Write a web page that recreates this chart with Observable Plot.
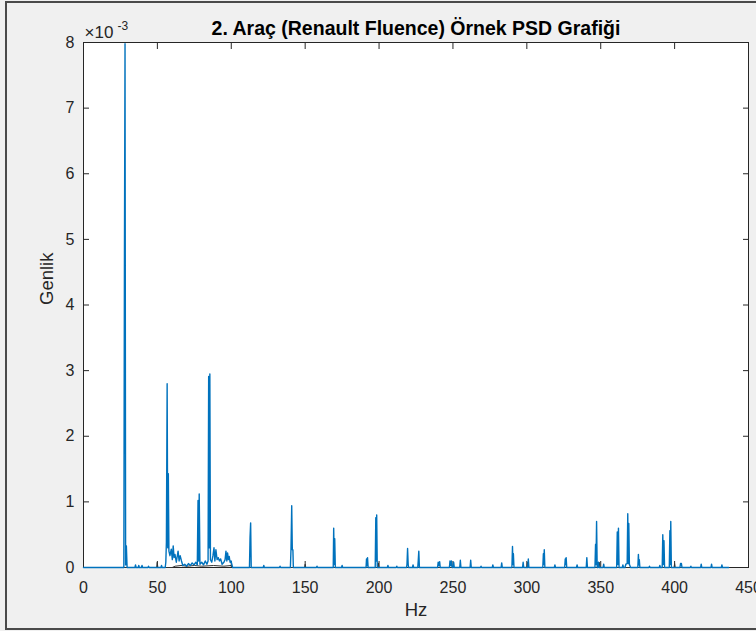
<!DOCTYPE html>
<html><head><meta charset="utf-8">
<script src="https://cdn.jsdelivr.net/npm/d3@7"></script>
<script src="https://cdn.jsdelivr.net/npm/@observablehq/plot@0.6"></script>
<style>
html,body{margin:0;padding:0;background:#f0f0f0;overflow:hidden}
#wrap{position:relative;width:756px;height:631px;overflow:hidden}
#border{position:absolute;left:5px;top:1px;width:820px;height:629px;border:2px solid #4a4a4a;box-sizing:border-box;pointer-events:none}
svg{display:block}
</style></head><body><div id="wrap"><div id="border"></div></div>
<script>
// PSD values in units of 1e-3
const hz = [
0,27.3,27.7,28.1,28.5,29.0,29.5,
34.8,35.2,35.6,37.0,37.4,37.8,39.2,39.6,40.0,43.6,44.0,44.4,52.4,52.8,53.2,
55.3,55.7,56.1,56.6,57.0,57.4,57.8,58.5,59.4,60.1,60.7,61.3,61.9,62.8,64.0,64.7,65.4,66.3,67.2,68.5,69.8,71.0,72.3,73.5,74.8,76.0,
77.0,77.5,77.9,78.3,78.8,80.0,81.2,82.4,83.5,
84.3,84.7,85.1,85.5,85.9,86.8,87.6,88.3,88.9,89.6,90.4,91.2,92.0,92.8,93.8,95.0,95.8,96.4,97.0,97.5,98.1,98.6,99.2,99.8,100.9,
112.3,112.7,113.1,113.5,121.6,122.0,122.4,132.6,133.0,133.4,
140.0,140.4,140.9,141.3,141.7,142.0,157.6,158.0,158.4,
169.0,169.3,169.7,170.0,170.4,174.6,175.0,175.4,
191.2,191.5,191.9,192.2,192.6,197.4,197.8,198.1,198.4,198.8,
205.6,206.0,206.4,211.6,212.0,212.4,218.6,218.9,219.3,219.7,220.0,222.6,223.0,223.4,226.2,226.5,226.9,227.3,
239.6,240.0,240.5,241.0,241.4,247.6,248.0,248.5,249.0,249.4,250.2,250.5,250.9,254.6,255.0,255.4,261.6,262.0,262.4,
268.6,269.0,269.4,276.6,277.0,277.4,282.6,283.0,283.4,
289.9,290.3,290.6,290.9,291.3,297.1,297.5,297.9,300.6,301.0,301.4,
310.8,311.2,311.5,311.8,312.2,318.6,319.0,319.4,325.6,326.0,326.3,326.6,327.0,333.6,334.0,334.4,340.2,340.6,341.0,
346.1,346.5,346.8,347.2,347.6,348.1,348.5,348.9,351.6,352.0,352.4,
360.8,361.2,361.6,362.0,362.4,364.6,365.0,365.4,366.4,367.0,367.9,368.3,368.6,369.0,369.4,370.2,
375.1,375.5,375.8,376.1,376.5,382.6,383.0,383.4,389.6,390.0,390.4,
391.6,392.0,392.4,392.8,393.2,396.4,396.8,397.1,397.4,397.8,
403.6,404.0,404.3,404.6,405.0,410.6,411.0,411.4,417.6,418.0,418.4,424.6,425.0,425.4,431.6,432.0,432.4,436.6
];
const amp = [
0,0,4.6,7.98,0.04,0.33,0,
0,0.04,0,0,0.03,0,0,0.03,0,0,0.02,0,0,0.03,0,
0,0.08,0.39,2.80,0.30,1.43,0.25,0.18,0.28,0.12,0.33,0.15,0.20,0.08,0.25,0.10,0.18,0.10,0.03,0.05,0.02,0.06,0.03,0.07,0.04,0.08,
0.04,1.02,0.10,1.12,0.05,0.08,0.04,0.10,0.05,
0.10,2.91,0.30,2.95,0.12,0.08,0.18,0.30,0.10,0.27,0.12,0.15,0.10,0.13,0.05,0.08,0.12,0.25,0.10,0.22,0.12,0.17,0.08,0.10,0,
0,0.46,0.68,0,0,0.03,0,0,0.02,0,
0,0.27,0.94,0.27,0.27,0,0,0.02,0,
0,0.60,0.05,0.44,0,0,0.03,0,
0,0.13,0.03,0.15,0,0,0.76,0.10,0.80,0,
0,0.03,0,0,0.02,0,0,0.05,0.29,0.05,0,0,0.04,0,0,0.10,0.25,0,
0,0.08,0.03,0.09,0,0,0.10,0.03,0.10,0,0,0.08,0,0,0.11,0,0,0.11,0,
0,0.02,0,0,0.04,0,0,0.07,0,
0,0.32,0.05,0.21,0,0,0.08,0,0,0.13,0,
0,0.21,0.05,0.27,0,0,0.04,0,0,0.13,0.05,0.15,0,0,0.04,0,0,0.15,0,
0,0.35,0.05,0.70,0,0,0.08,0,0,0.05,0,
0,0.54,0.05,0.60,0,0,0.04,0,0,0.05,0.06,0.82,0.06,0.67,0.05,0,
0,0.20,0.04,0.12,0,0,0.02,0,0,0.03,0,
0,0.50,0.05,0.41,0,0,0.56,0.05,0.70,0,
0,0.06,0.06,0.06,0,0,0.02,0,0,0.05,0,0,0.05,0,0,0.04,0,0
];
// second (dark) trace, small values
const hzDark = [0,49.5,49.9,50.3,60,62,66,70,75,80,88,95,100,101,149.6,150,150.4,199.1,199.5,199.9,300.1,300.5,300.9,348.6,349,349.4,399.6,400,400.4,436.6];
const ampDark = [0,0,0.08,0,0,0.02,0.03,0.02,0.03,0.02,0.03,0.02,0.03,0,0,0.05,0,0,0.07,0,0,0.08,0,0,0.08,0,0,0.06,0,0];

const xTicks = [0,50,100,150,200,250,300,350,400,450];
const yTicks = [0,1,2,3,4,5,6,7,8];
const titleText = "2. Araç (Renault Fluence) Örnek PSD Grafiği";
const xLabel = "Hz";
const yLabel = "Genlik";
const expBase = "×10";
const expPow = "-3";

const main = hz.map((f, i) => ({f, a: amp[i]}));
const dark = hzDark.map((f, i) => ({f, a: ampDark[i]}));
const ink = "#262626";
const fmt = d3.format("d");

const chart = Plot.plot({
  width: 756, height: 631,
  marginLeft: 83, marginRight: 8, marginTop: 42, marginBottom: 64,
  style: {background: "transparent", fontFamily: "'Liberation Sans', Arial, sans-serif", fontSize: "16px", color: ink},
  x: {domain: [0, 450]},
  y: {domain: [0, 8]},
  marks: [
    Plot.frame({fill: "white", stroke: null}),
    Plot.axisX(xTicks, {anchor: "bottom", tickSize: -6, tickPadding: 20, tickFormat: fmt, label: null, stroke: ink, fill: ink, fontSize: 16}),
    Plot.axisX(xTicks, {anchor: "top", tickSize: -6, tickFormat: () => "", label: null, stroke: ink}),
    Plot.axisY(yTicks, {anchor: "left", tickSize: -6, tickPadding: 15, tickFormat: fmt, label: null, stroke: ink, fill: ink, fontSize: 16}),
    Plot.axisY(yTicks, {anchor: "right", tickSize: -6, tickFormat: () => "", label: null, stroke: ink}),
    Plot.frame({stroke: ink, strokeWidth: 1}),
    Plot.line(dark, {x: "f", y: "a", stroke: "#333333", strokeWidth: 1}),
    Plot.line(main, {x: "f", y: "a", stroke: "#0072BD", strokeWidth: 1.4}),
    Plot.text([titleText], {frameAnchor: "top", dy: -14, lineAnchor: "middle", fontWeight: "bold", fontSize: 19.5, fill: "#000"}),
    Plot.text([xLabel], {frameAnchor: "bottom", dy: 43, lineAnchor: "middle", fontSize: 18.5, fill: ink}),
    Plot.text([yLabel], {frameAnchor: "left", dx: -36, rotate: -90, lineAnchor: "middle", fontSize: 18.5, fill: ink}),
    Plot.text([expBase], {frameAnchor: "top-left", dx: 1, dy: -10, textAnchor: "start", lineAnchor: "middle", fontSize: 17, fill: ink}),
    Plot.text([expPow], {frameAnchor: "top-left", dx: 34, dy: -16, textAnchor: "start", lineAnchor: "middle", fontSize: 12, fill: ink})
  ]
});
const wrap = document.getElementById("wrap");
wrap.insertBefore(chart, wrap.firstChild);
</script>
</body></html>
